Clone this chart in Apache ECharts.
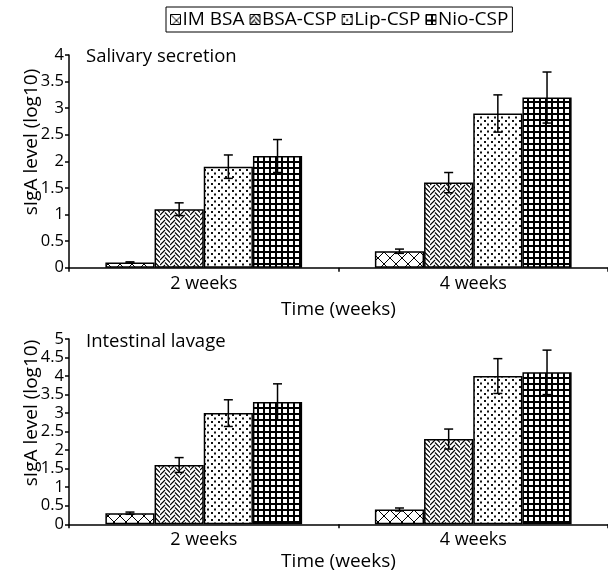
<!DOCTYPE html>
<html><head><meta charset="utf-8">
<script src="https://cdn.jsdelivr.net/npm/echarts@6/dist/echarts.min.js"></script>
<style>html,body{margin:0;padding:0;background:#fff}#c{width:608px;height:573px}</style>
</head><body><div id="c"></div>
<script>
// ---- data ----
const categories = ['2 weeks', '4 weeks'];
const seriesNames = ['IM BSA', 'BSA-CSP', 'Lip-CSP', 'Nio-CSP'];
const yTicksTop = [0, 0.5, 1, 1.5, 2, 2.5, 3, 3.5, 4];
const yTicksBottom = [0, 0.5, 1, 1.5, 2, 2.5, 3, 3.5, 4, 4.5, 5];

const salivaryIM  = [0.1, 0.31];
const salivaryBSA = [1.1, 1.6];
const salivaryLip = [1.9, 2.9];
const salivaryNio = [2.1, 3.2];
const salivaryErrIM  = [0.01, 0.04];
const salivaryErrBSA = [0.12, 0.19];
const salivaryErrLip = [0.22, 0.35];
const salivaryErrNio = [0.31, 0.48];

const intestinalIM  = [0.3, 0.4];
const intestinalBSA = [1.6, 2.3];
const intestinalLip = [3.0, 4.0];
const intestinalNio = [3.3, 4.1];
const intestinalErrIM  = [0.03, 0.04];
const intestinalErrBSA = [0.2, 0.27];
const intestinalErrLip = [0.36, 0.47];
const intestinalErrNio = [0.49, 0.6];

// ---- patterns ----
function tile(w, h, draw) {
  const c = document.createElement('canvas');
  c.width = w; c.height = h;
  const g = c.getContext('2d');
  g.fillStyle = '#fff'; g.fillRect(0, 0, w, h);
  draw(g);
  return { image: c, repeat: 'repeat' };
}
const patIM = tile(12, 12, g => {
  g.strokeStyle = '#000'; g.lineWidth = 1;
  g.beginPath();
  g.moveTo(0, 0); g.lineTo(12, 12);
  g.moveTo(12, 0); g.lineTo(0, 12);
  g.stroke();
});
const patBSA = tile(10, 10, g => {
  // herringbone: '/' strokes in left half, '\' strokes in right half, offset
  g.strokeStyle = '#000'; g.lineWidth = 1.2;
  g.beginPath();
  [-5, 0, 5, 10].forEach(y => {
    g.moveTo(0, y + 5); g.lineTo(5, y);
    g.moveTo(5, y + 2.5); g.lineTo(10, y + 7.5);
  });
  g.stroke();
});
const patLip = tile(7, 7, g => {
  g.fillStyle = '#111';
  g.fillRect(1, 1, 2, 2);
  g.fillRect(4, 4.5, 2, 2);
});
const patNio = tile(6, 6, g => {
  g.fillStyle = '#000'; g.fillRect(0, 0, 6, 6);
  g.fillStyle = '#fff'; g.fillRect(1, 1, 4, 4);
});
const patterns = [patIM, patBSA, patLip, patNio];

const topVals = [salivaryIM, salivaryBSA, salivaryLip, salivaryNio];
const topErrs = [salivaryErrIM, salivaryErrBSA, salivaryErrLip, salivaryErrNio];
const botVals = [intestinalIM, intestinalBSA, intestinalLip, intestinalNio];
const botErrs = [intestinalErrIM, intestinalErrBSA, intestinalErrLip, intestinalErrNio];

const FONT = '"Open Sans", "Noto Sans", sans-serif';
const CAT_GAP = 0.27;

function errRender(k) {
  return function (params, api) {
    const c = api.value(0), v = api.value(1), e = api.value(2);
    const band = api.size([1, 0])[0];
    const bw = band * (1 - CAT_GAP) / 4;
    const p = api.coord([c, v]);
    const x = p[0] + (k - 1.5) * bw;
    const yt = api.coord([c, v + e])[1];
    const yb = api.coord([c, v - e])[1];
    const hw = 4.5;
    const st = { stroke: '#000', lineWidth: 1.5 };
    return {
      type: 'group',
      children: [
        { type: 'line', shape: { x1: x, y1: yt, x2: x, y2: yb }, style: st },
        { type: 'line', shape: { x1: x - hw, y1: yt, x2: x + hw, y2: yt }, style: st },
        { type: 'line', shape: { x1: x - hw, y1: yb, x2: x + hw, y2: yb }, style: st }
      ]
    };
  };
}

const series = [];
[[topVals, topErrs, 0], [botVals, botErrs, 1]].forEach(([vals, errs, gi]) => {
  vals.forEach((arr, k) => {
    series.push({
      name: seriesNames[k], type: 'bar', xAxisIndex: gi, yAxisIndex: gi,
      data: arr, barGap: '0%', barCategoryGap: (CAT_GAP * 100) + '%',
      itemStyle: { color: patterns[k], borderColor: '#000', borderWidth: 1.5 },
      emphasis: { disabled: true }, animation: false
    });
  });
  vals.forEach((arr, k) => {
    series.push({
      name: 'err' + gi + k, type: 'custom', xAxisIndex: gi, yAxisIndex: gi,
      data: arr.map((v, i) => [i, v, errs[k][i]]),
      renderItem: errRender(k), z: 5, animation: false, silent: true
    });
  });
});

function xAx(gi, nameGap) {
  return {
    type: 'category', gridIndex: gi, data: categories,
    axisLine: { lineStyle: { color: '#000', width: 1.5 } },
    axisTick: { show: true, length: 4, lineStyle: { color: '#000', width: 1.5 } },
    axisLabel: { color: '#000', fontSize: 18, fontFamily: FONT, margin: 7 },
    name: 'Time (weeks)', nameLocation: 'middle', nameGap: nameGap,
    nameTextStyle: { color: '#000', fontSize: 19, fontFamily: FONT }
  };
}
function yAx(gi, max) {
  return {
    type: 'value', gridIndex: gi, min: 0, max: max, interval: 0.5,
    axisLine: { show: true, lineStyle: { color: '#000', width: 1.5 } },
    axisTick: { show: true, length: 4, lineStyle: { color: '#000', width: 1.5 } },
    axisLabel: { color: '#000', fontSize: 16.5, fontFamily: FONT, margin: 5 },
    splitLine: { show: false }
  };
}

const chart = echarts.init(document.getElementById('c'));
chart.setOption({
  animation: false,
  backgroundColor: '#fff',
  legend: {
    data: seriesNames, top: 7, left: 166, icon: 'rect',
    itemWidth: 10, itemHeight: 10, itemGap: 5,
    padding: [2, 4, 2, 4],
    borderColor: '#000', borderWidth: 1,
    textStyle: { color: '#000', fontSize: 19, fontFamily: FONT, lineHeight: 21, padding: [0, 0, 0, -3] },
    itemStyle: { borderColor: '#000', borderWidth: 1 },
    selectedMode: false
  },
  grid: [
    { left: 69, right: -8, top: 55, height: 212.7 },
    { left: 69, right: -8, top: 339, height: 185.3 }
  ],
  xAxis: [xAx(0, 32), xAx(1, 28)],
  yAxis: [yAx(0, 4), yAx(1, 5)],
  graphic: [
    { type: 'text', left: 86, top: 47, style: { text: 'Salivary secretion', font: '18.5px ' + FONT, fill: '#000' } },
    { type: 'text', left: 86, top: 332, style: { text: 'Intestinal lavage', font: '18.5px ' + FONT, fill: '#000' } },
    { type: 'text', x: 32, y: 142, rotation: Math.PI / 2,
      style: { text: 'sIgA level (log10)', font: '19px ' + FONT, fill: '#000', align: 'center', verticalAlign: 'middle', textAlign: 'center', textVerticalAlign: 'middle' } },
    { type: 'text', x: 32, y: 413, rotation: Math.PI / 2,
      style: { text: 'sIgA level (log10)', font: '19px ' + FONT, fill: '#000', align: 'center', verticalAlign: 'middle', textAlign: 'center', textVerticalAlign: 'middle' } }
  ],
  series: series
});
</script></body></html>
